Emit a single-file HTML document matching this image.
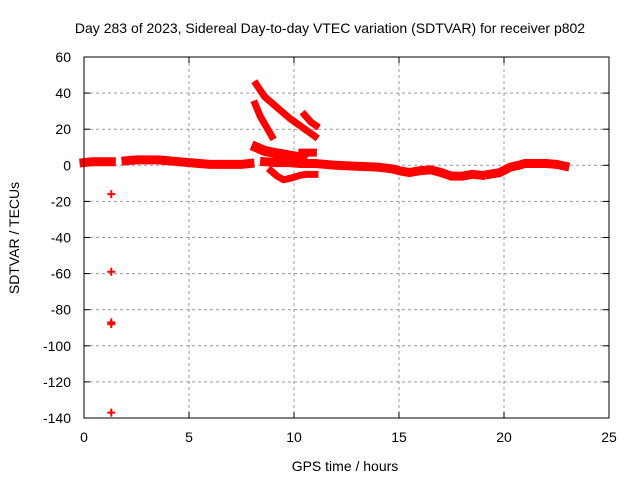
<!DOCTYPE html>
<html><head><meta charset="utf-8"><style>
body{margin:0;background:#fff}
svg{display:block;font-family:"Liberation Sans",sans-serif}
</style></head><body>
<svg id="c" width="640" height="480" xmlns="http://www.w3.org/2000/svg">
<text x="330" y="33" text-anchor="middle" font-size="14">Day 283 of 2023, Sidereal Day-to-day VTEC variation (SDTVAR) for receiver p802</text>
<text x="345" y="471" text-anchor="middle" font-size="14">GPS time / hours</text>
<text transform="translate(19,238) rotate(-90)" text-anchor="middle" font-size="14">SDTVAR / TECUs</text>
<g id="grid"></g>
<g id="ticks"></g>
<g id="marks"></g>
<rect x="84" y="57" width="525" height="361" fill="none" stroke="#000" stroke-width="1"/>
</svg>
<script>
const xTicks=[0,5,10,15,20,25];
const yTicks=[60,40,20,0,-20,-40,-60,-80,-100,-120,-140];
const baseA=[[0,1.5],[0.4,2],[0.8,2],[1.3,2]];
const baseB=[[2,2.5],[2.5,3],[3,3],[3.5,3],[4,2.5],[4.5,2],[5,1.5],[5.5,1],[6,0.5],[6.5,0.5],[7,0.5],[7.5,0.5],[7.9,1]];
const baseC=[[8.2,10],[8.6,8],[9,7],[9.5,6],[10,5],[10.4,4]];
const baseD=[[8.6,2],[9.2,1.5],[9.8,1.5],[10.3,1],[11,1],[12,0],[13,-0.5],[14,-1],[14.7,-2],[15,-3],[15.5,-4],[16,-3],[16.5,-2.5],[17,-4],[17.5,-6],[18,-6],[18.5,-5],[18.9,-5.5]];
const baseE=[[19.3,-5],[19.8,-4],[20.3,-1],[20.7,0],[21,1],[21.5,1],[22,1],[22.5,0.5],[22.9,-0.5]];
const arc1=[[8.2,45],[8.6,38],[9.2,32],[9.8,26],[10.4,21],[11,16]];
const arc2=[[8.15,34],[8.4,27],[8.7,21],[8.95,16]];
const arc3=[[10.5,28],[10.8,24],[11.05,22]];
const loop=[[8.9,-3],[9.2,-6],[9.5,-8],[9.9,-7],[10.3,-5.5],[10.6,-5],[11,-5]];
const stub=[[10.4,7],[10.9,7]];
const outX=[1.3,1.3,1.3,1.3,1.3];
const outY=[-16,-59,-87,-88,-137];
const NS='http://www.w3.org/2000/svg';
const sx=v=>84+v*21, sy=v=>165.3-v*1.805;
const grid=document.getElementById('grid'),ticks=document.getElementById('ticks'),marks=document.getElementById('marks');
function mk(t,a,p){const e=document.createElementNS(NS,t);for(const k in a)e.setAttribute(k,a[k]);p.appendChild(e);return e;}
xTicks.forEach(v=>{
 if(v>0&&v<25){const g=mk('line',{x1:sx(v),x2:sx(v),y1:57,y2:418,stroke:'#999','stroke-dasharray':'3,3'},grid);
 
 }
 mk('line',{x1:sx(v),x2:sx(v),y1:418,y2:412,stroke:'#000'},ticks);
 mk('line',{x1:sx(v),x2:sx(v),y1:57,y2:63,stroke:'#000'},ticks);
 const t=mk('text',{x:sx(v),y:442,'text-anchor':'middle','font-size':14},ticks);t.textContent=v;
 
 
});
yTicks.forEach(v=>{
 if(v<60&&v>-140){const g=mk('line',{x1:84,x2:609,y1:sy(v),y2:sy(v),stroke:'#999','stroke-dasharray':'3,3'},grid);
 
 }
 mk('line',{x1:84,x2:90,y1:sy(v),y2:sy(v),stroke:'#000'},ticks);
 mk('line',{x1:609,x2:603,y1:sy(v),y2:sy(v),stroke:'#000'},ticks);
 const t=mk('text',{x:71,y:sy(v)+5,'text-anchor':'end','font-size':14},ticks);t.textContent=v;
 
 
});
function band(pts,w,name){
 const p=mk('polyline',{points:pts.map(q=>sx(q[0])+','+sy(q[1])).join(' '),fill:'none',stroke:'#f00','stroke-width':w,'stroke-linejoin':'round','stroke-linecap':'square'},marks);
 
 
}
band(baseA,9,'series-segment-1');band(baseB,9,'series-segment-2');band(baseC,10,'series-segment-3');
band(baseD,9,'series-segment-4');band(baseE,9,'series-segment-5');band(arc1,7,'series-arc-1');
band(arc2,7,'series-arc-2');band(arc3,7,'series-arc-3');band(loop,7,'series-loop');band(stub,8,'series-stub');
outX.forEach((x,i)=>{
 const X=sx(x),Y=sy(outY[i]);
 const p=mk('path',{d:`M${X-4},${Y}h8M${X},${Y-4}v8`,stroke:'#f00','stroke-width':2},marks);
 
 
});
</script>
</body></html>
